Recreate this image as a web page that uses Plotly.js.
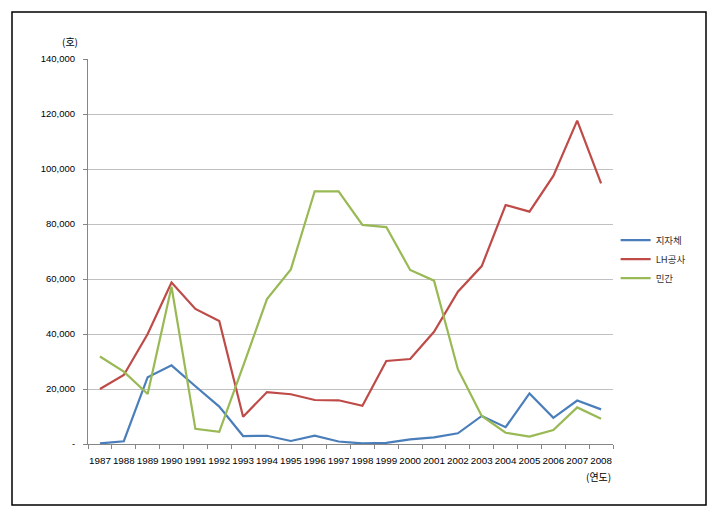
<!DOCTYPE html>
<html>
<head>
<meta charset="utf-8">
<script src="https://cdn.plot.ly/plotly-3.0.1.min.js"></script>
<style>html,body{margin:0;padding:0;background:#fff;}#chart{width:715px;height:515px;}</style>
</head>
<body>
<div id="chart"></div>
<script>
const years = ["1987","1988","1989","1990","1991","1992","1993","1994","1995","1996","1997","1998","1999","2000","2001","2002","2003","2004","2005","2006","2007","2008"];
const local = [200,1000,24300,28600,21000,13600,2900,3000,1100,3000,900,200,400,1700,2400,3900,10200,6100,18400,9500,15800,12600];
const lh = [20000,25100,40000,58700,49100,44700,9900,18900,18100,16000,15900,13900,30200,30900,40800,55400,64700,86900,84500,97500,117600,94800];
const privateSector = [31800,26300,18200,57200,5500,4400,28300,52700,63500,91900,91900,79700,78900,63300,59400,27200,10200,4100,2700,5100,13300,9200];
const seriesNames = ["지자체","LH공사","민간"];
const yTickVals = [0,20000,40000,60000,80000,100000,120000,140000];
const yTickText = ["-","20,000","40,000","60,000","80,000","100,000","120,000","140,000"];

const fontFam = "Liberation Sans, Arial, Noto Sans CJK KR, sans-serif";
const colors = ["#4A7EBB","#BE4B48","#98B954"];
const data = [local, lh, privateSector].map((vals,i)=>({
  x: years, y: vals, name: seriesNames[i], type: "scatter", mode: "lines",
  line: {color: colors[i], width: 2.2}
}));

const layout = {
  width: 715, height: 515,
  margin: {l: 88, r: 102, t: 59, b: 71},
  paper_bgcolor: "#fff", plot_bgcolor: "#fff",
  font: {family: fontFam, size: 9.5, color: "#000"},
  showlegend: true,
  legend: {x: 1.005, xanchor: "left", y: 0.48, yanchor: "middle",
    font: {family: "Noto Sans CJK KR, sans-serif", size: 9.5, color: "#333"},
    bgcolor: "rgba(0,0,0,0)", borderwidth: 0, itemwidth: 30, tracegroupgap: 0},
  xaxis: {type: "category", range: [-0.5, 21.5], tickson: "boundaries",
    ticks: "outside", ticklen: 4, tickcolor: "#868686", tickangle: 0, ticklabelstandoff: 7,
    showline: true, linecolor: "#868686", linewidth: 1,
    showgrid: false, zeroline: false, fixedrange: true,
    tickfont: {family: fontFam, size: 9.8, color: "#000"}},
  yaxis: {range: [0, 140000], tickvals: yTickVals, ticktext: yTickText,
    ticks: "outside", ticklen: 4, tickcolor: "#868686", ticklabelstandoff: 6,
    showline: true, linecolor: "#868686", linewidth: 1,
    showgrid: true, gridcolor: "#c0c0c0", gridwidth: 1, zeroline: false,
    tickfont: {family: fontFam, size: 9.5, color: "#000"}},
  annotations: [
    {text: "(호)", xref: "paper", yref: "paper", x: -0.016, y: 1.02, xanchor: "right", yanchor: "bottom",
     showarrow: false, font: {family: "Noto Sans CJK KR, sans-serif", size: 10, color: "#000"}},
    {text: "(연도)", xref: "paper", yref: "paper", x: 1.0, y: -0.06, xanchor: "right", yanchor: "top",
     showarrow: false, font: {family: "Noto Sans CJK KR, sans-serif", size: 10, color: "#000"}}
  ],
  shapes: [
    {type: "rect", xref: "paper", yref: "paper",
     x0: (12-88)/525, x1: (706-88)/525, y0: (444-505)/385, y1: (444-12)/385,
     line: {color: "#000", width: 1.5}, fillcolor: "rgba(0,0,0,0)"}
  ]
};
Plotly.newPlot("chart", data, layout, {staticPlot: true, displayModeBar: false});
</script>
</body>
</html>
